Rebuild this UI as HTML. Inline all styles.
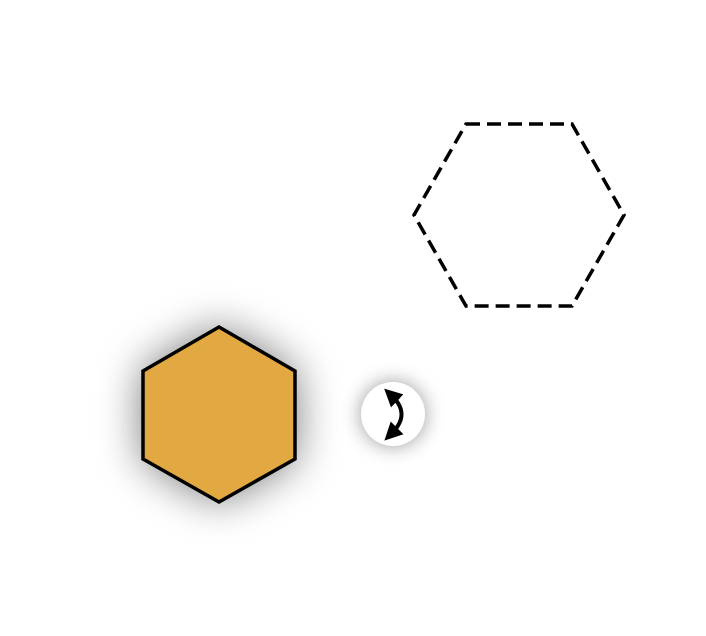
<!DOCTYPE html>
<html><head><style>
html,body{margin:0;padding:0;background:#fff;width:706px;height:636px;overflow:hidden}
</style></head><body>
<svg width="706" height="636" viewBox="0 0 706 636">
<defs>
<filter id="sh" x="-60%" y="-60%" width="220%" height="220%"><feGaussianBlur stdDeviation="22"/></filter>
<filter id="sh2" x="-80%" y="-80%" width="260%" height="260%"><feGaussianBlur stdDeviation="10"/></filter>
<marker id="ah" viewBox="0 0 10 10" refX="4" refY="5" markerWidth="4.5" markerHeight="4.5" orient="auto-start-reverse"><path d="M0,0 L10,5 L0,10 z" fill="#000"/></marker>
</defs>
<polygon points="466,124 572,124 624,215 572,306 466,306 414,215" fill="none" stroke="#000" stroke-width="3.5" stroke-dasharray="14,7"/>
<g>
<polygon points="219,327 295,371 295,459 219,502 143,459 143,371" fill="#000" opacity="0.55" filter="url(#sh)"/>
<polygon points="219,327 295,371 295,459 219,502 143,459 143,371" fill="#E2A942" stroke="#000" stroke-width="3.5" stroke-linejoin="miter"/>
</g>
<g>
<circle cx="393" cy="414" r="32" fill="#000" opacity="0.4" filter="url(#sh2)"/>
<circle cx="393" cy="414" r="32" fill="#fff"/>
<path d="M392,396 Q411,414 392,433" fill="none" stroke="#000" stroke-width="4" marker-start="url(#ah)" marker-end="url(#ah)"/>
</g>
</svg>
</body></html>
